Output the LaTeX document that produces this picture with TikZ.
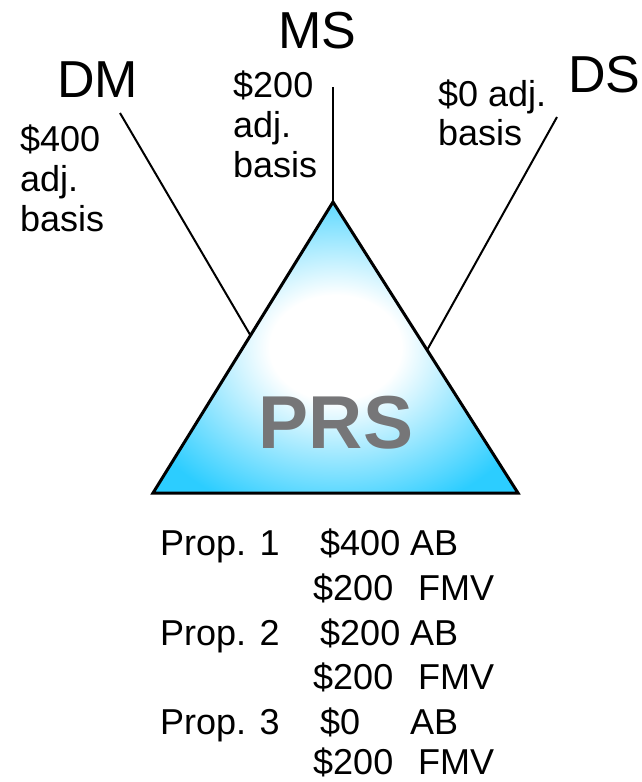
\documentclass[tikz,border=0pt]{standalone}
\usepackage{fontspec}
\setmainfont{Liberation Sans}
\definecolor{tricyan}{RGB}{44,205,255}
\definecolor{prsgray}{RGB}{118,118,120}
\pgfdeclareradialshading{glow}{\pgfpoint{0bp}{0bp}}{color(0bp)=(white); color(9bp)=(white); color(30bp)=(tricyan); color(50bp)=(tricyan)}
\begin{document}
\begin{tikzpicture}[x=1pt,y=-1pt,
  big/.style={font=\fontsize{52}{60}\selectfont, inner sep=0pt, anchor=base west},
  small/.style={font=\fontsize{36}{40}\selectfont, inner sep=0pt, anchor=base west},
  link/.style={draw=black, line width=2pt},
  tri/.style={draw=black, line width=3pt, line join=miter, shading=glow}]
\useasboundingbox (0,0) rectangle (641,782);
% points of the triangle
\coordinate (apex) at (333,202);
\coordinate (bl) at (153,493);
\coordinate (br) at (518,493);
% connector ends
\coordinate (dmtop) at (120,113);
\coordinate (dmend) at (252,338);
\coordinate (mstop) at (333,87);
\coordinate (dstop) at (557,117);
\coordinate (dsend) at (426,352);
\draw[link] (dmtop) -- (dmend);
\draw[link] (mstop) -- (apex);
\draw[link] (dstop) -- (dsend);
\path[tri] (apex) -- (br) -- (bl) -- cycle;
\node[font=\fontsize{75}{80}\selectfont\bfseries, text=prsgray, inner sep=0pt, anchor=base] (prs) at (336,448) {PRS};
% party labels
\node[big] (dm) at (57,97) {DM};
\node[big] (ms) at (278,48) {MS};
\node[big] (ds) at (568,92) {DS};
% basis labels
\node[small] (dm1) at (20,151) {\$400};
\node[small] (dm2) at (20,191) {adj.};
\node[small] (dm3) at (20,231) {basis};
\node[small] (ms1) at (233,97) {\$200};
\node[small] (ms2) at (233,137) {adj.};
\node[small] (ms3) at (233,177) {basis};
\node[small] (ds1) at (438,106) {\$0 adj.};
\node[small] (ds2) at (438,145) {basis};
% property table
\node[small] (p1) at (160,555) {Prop. 1};
\node[small] (p1a) at (320,555) {\$400};
\node[small] (p1b) at (410,555) {AB};
\node[small] (p1c) at (313,600) {\$200};
\node[small] (p1d) at (418,600) {FMV};
\node[small] (p2) at (160,645) {Prop. 2};
\node[small] (p2a) at (320,645) {\$200};
\node[small] (p2b) at (410,645) {AB};
\node[small] (p2c) at (313,689) {\$200};
\node[small] (p2d) at (418,689) {FMV};
\node[small] (p3) at (160,734) {Prop. 3};
\node[small] (p3a) at (320,734) {\$0};
\node[small] (p3b) at (410,734) {AB};
\node[small] (p3c) at (313,774) {\$200};
\node[small] (p3d) at (418,774) {FMV};
\end{tikzpicture}
\end{document}
